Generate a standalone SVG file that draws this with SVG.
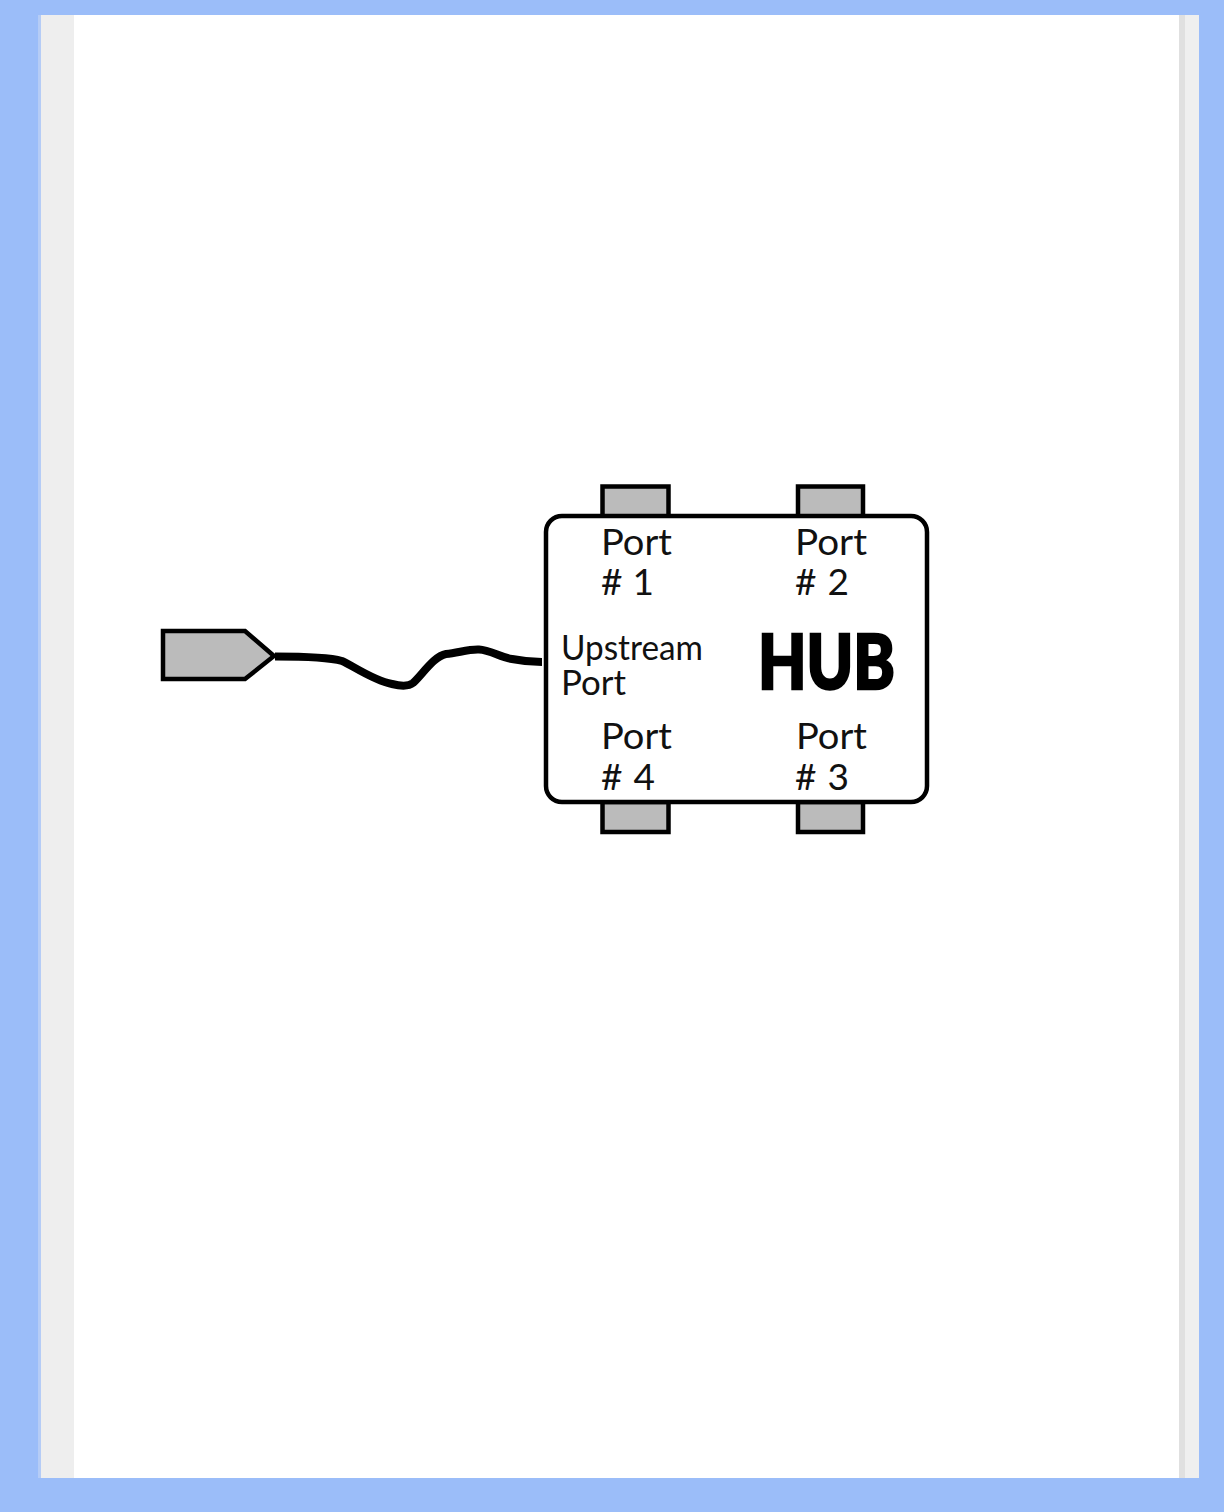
<svg xmlns="http://www.w3.org/2000/svg" width="1224" height="1512" viewBox="0 0 1224 1512">
<style>
.l{font-family:"Lato","Noto Sans","Liberation Sans",sans-serif;fill:#111}
.p{font-size:37px}
.u{font-size:34px}
.h{font-size:76px;font-weight:900;fill:#000;stroke:#000;stroke-width:2.5}
.s{fill:#bbb;stroke:#000;stroke-width:4.500}
</style>
<rect width="1224" height="1512" fill="#9bbdf9"/>
<rect x="38" y="15" width="3" height="1463" fill="#b5ccf6"/>
<rect x="41" y="15" width="33" height="1463" fill="#eee"/>
<rect x="74" y="15" width="1105" height="1463" fill="#fff"/>
<rect x="1179" y="15" width="6" height="1463" fill="#e0e0e0"/>
<rect x="1185" y="15" width="14" height="1463" fill="#efefef"/>
<g id="plug"><polygon class="s" points="163,631 245,631 274,656 245,679 163,679"/></g>
<g id="connectors"><path d="M275,656.5 C295,656.500 328,657 342,661 C352,665 372,680 392,684 C400,686 408,687 413,683 C422,675 434,656 446,654 C458,653 468,649 479,649.500 C490,650 500,657 512,659 C522,661 532,662 542,662" fill="none" stroke="#000" stroke-width="8"/></g>
<g id="port1-socket"><rect class="s" x="602.500" y="486.500" width="66" height="30"/></g>
<g id="port2-socket"><rect class="s" x="798" y="486.500" width="65" height="30"/></g>
<g id="port4-socket"><rect class="s" x="602.500" y="802" width="66" height="30"/></g>
<g id="port3-socket"><rect class="s" x="798" y="802" width="65" height="30"/></g>
<g id="hub">
<rect x="546" y="516" width="381" height="286" rx="16" fill="#fff" stroke="#000" stroke-width="4.500"/>
<text class="l h" x="758" y="689" textLength="137" lengthAdjust="spacingAndGlyphs">HUB</text>
<text class="l u" x="561" y="660" textLength="142" lengthAdjust="spacingAndGlyphs">Upstream</text>
<text class="l u" x="561" y="695" textLength="65" lengthAdjust="spacingAndGlyphs">Port</text>
</g>
<g id="port1"><text class="l p" x="601" y="555" textLength="71" lengthAdjust="spacingAndGlyphs">Port</text><text class="l p" x="601" y="595" textLength="53">#  1</text></g>
<g id="port2"><text class="l p" x="795" y="555" textLength="72" lengthAdjust="spacingAndGlyphs">Port</text><text class="l p" x="795" y="595" textLength="54">#  2</text></g>
<g id="port4"><text class="l p" x="601" y="749" textLength="71" lengthAdjust="spacingAndGlyphs">Port</text><text class="l p" x="601" y="790" textLength="54">#  4</text></g>
<g id="port3"><text class="l p" x="796" y="749" textLength="71" lengthAdjust="spacingAndGlyphs">Port</text><text class="l p" x="795" y="790" textLength="54">#  3</text></g>
</svg>
